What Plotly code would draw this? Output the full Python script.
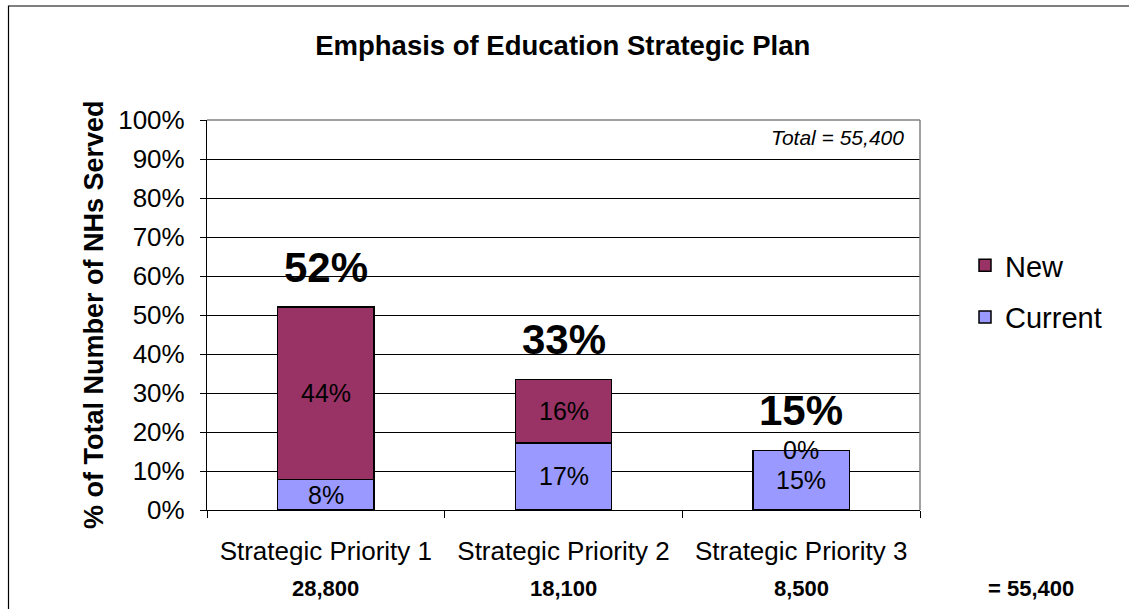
import plotly.graph_objects as go

categories = ["Strategic Priority 1", "Strategic Priority 2", "Strategic Priority 3"]
current_pct = [7.8, 17.2, 15.3]
new_pct = [44.2, 16.2, 0.0]
served_counts = ["28,800", "18,100", "8,500"]
grand_total = "55,400"
y_ticks = [0, 10, 20, 30, 40, 50, 60, 70, 80, 90, 100]

FONT = "Liberation Sans, Arial, sans-serif"
CUR_COLOR = "#9999FF"
NEW_COLOR = "#993366"

W, H = 1129, 609
ML, MR, MT, MB = 207, 209, 120, 99
pw = W - ML - MR
ph = H - MT - MB

fig = go.Figure()
fig.add_trace(go.Bar(
    name="Current", x=categories, y=current_pct,
    marker=dict(color=CUR_COLOR, line=dict(color="#000000", width=1.5)),
    legendgroup="cur", legendrank=2,
))
fig.add_trace(go.Bar(
    name="New", x=categories, y=new_pct,
    marker=dict(color=NEW_COLOR, line=dict(color="#000000", width=1.5)),
    legendgroup="new", legendrank=1,
))

annotations = []
for c, cv, nv in zip(categories, current_pct, new_pct):
    annotations.append(dict(x=c, y=cv / 2, xref="x", yref="y", text=f"{round(cv)}%",
                            showarrow=False, font=dict(size=25, color="#000000", family=FONT)))
    annotations.append(dict(x=c, y=cv + nv / 2, xref="x", yref="y", text=f"{round(nv)}%",
                            showarrow=False, font=dict(size=25, color="#000000", family=FONT)))
    tot = cv + nv
    annotations.append(dict(x=c, y=tot, xref="x", yref="y", text=f"<b>{round(tot)}%</b>",
                            showarrow=False, yanchor="middle", yshift=40,
                            font=dict(size=42, color="#000000", family=FONT)))

for c, n in zip(categories, served_counts):
    annotations.append(dict(x=c, xref="x", y=-0.2, yref="paper", yanchor="middle",
                            xanchor="center",
                            text=f"<b>{n}</b>", showarrow=False,
                            font=dict(size=22, color="#000000", family=FONT)))
annotations.append(dict(x=(1031 - ML) / pw, xref="paper", y=-0.2, yref="paper",
                        xanchor="center", yanchor="middle", text=f"<b>= {grand_total}</b>",
                        showarrow=False,
                        font=dict(size=22, color="#000000", family=FONT)))
annotations.append(dict(x=0.98, xref="paper", y=0.955, yref="paper", xanchor="right",
                        yanchor="middle", text=f"<i>Total = {grand_total}</i>", showarrow=False,
                        font=dict(size=21, color="#000000", family=FONT)))
annotations.append(dict(x=(94 - ML) / pw, xref="paper", y=0.5, yref="paper",
                        xanchor="center", yanchor="middle", textangle=-90,
                        text="<b>% of Total Number of NHs Served</b>", showarrow=False,
                        font=dict(size=27, color="#000000", family=FONT)))

shapes = [
    dict(type="line", xref="paper", yref="paper", x0=0, x1=1, y0=1, y1=1,
         line=dict(color="#808080", width=1.5)),
    dict(type="line", xref="paper", yref="paper", x0=1, x1=1, y0=0, y1=1,
         line=dict(color="#808080", width=1.5)),
    dict(type="rect", xref="paper", yref="paper",
         x0=(8.5 - ML) / pw, x1=(W + 10 - ML) / pw,
         y0=(H - MB - (H + 10)) / ph, y1=(H - MB - 6) / ph,
         line=dict(color="#000000", width=1.2), fillcolor="rgba(0,0,0,0)", layer="above"),
]

fig.update_layout(
    width=W, height=H,
    margin=dict(l=ML, r=MR, t=MT, b=MB),
    paper_bgcolor="#FFFFFF", plot_bgcolor="#FFFFFF",
    barmode="stack", bargap=0.595,
    font=dict(family=FONT, color="#000000", size=25),
    title=dict(text="<b>Emphasis of Education Strategic Plan</b>", x=0.499, xref="paper",
               y=1 - 45 / H, yanchor="middle", xanchor="center",
               font=dict(size=27.5, family=FONT, color="#000000")),
    legend=dict(x=(965 - ML) / pw, xanchor="left", y=(H - MB - 240) / ph, yanchor="top",
                traceorder="grouped", tracegroupgap=11,
                font=dict(size=29, family=FONT, color="#000000"),
                bgcolor="rgba(0,0,0,0)"),
    annotations=annotations,
    shapes=shapes,
)
fig.update_xaxes(
    showline=True, linecolor="#000000", linewidth=1.2,
    ticks="outside", tickson="boundaries", ticklen=7, tickcolor="#000000",
    tickfont=dict(size=26, family=FONT, color="#000000"),
    ticklabelstandoff=18, showgrid=False,
)
fig.update_yaxes(
    range=[0, 100], tickvals=y_ticks, ticktext=[f"{v}%" for v in y_ticks],
    showline=True, linecolor="#000000", linewidth=1.2,
    ticks="outside", ticklen=6, tickcolor="#000000",
    tickfont=dict(size=26, family=FONT, color="#000000"),
    ticklabelstandoff=10,
    showgrid=True, gridcolor="#000000", gridwidth=1, zeroline=False,
)

fig.write_html("out.html", config={"displayModeBar": False},
               post_script="document.body.style.margin='0';document.body.style.overflow='hidden';")
